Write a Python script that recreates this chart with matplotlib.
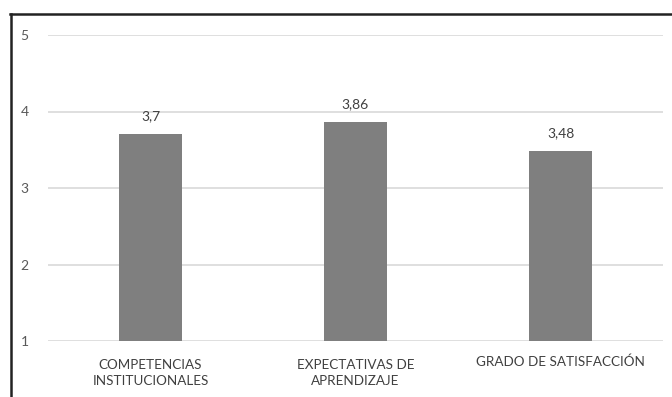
import matplotlib
matplotlib.use("Agg")
import matplotlib.pyplot as plt
from matplotlib.lines import Line2D
from matplotlib.transforms import blended_transform_factory

plt.rcParams['font.family'] = ['Lato', 'DejaVu Sans']

categories = ["COMPETENCIAS\nINSTITUCIONALES", "EXPECTATIVAS DE\nAPRENDIZAJE", "GRADO DE SATISFACCIÓN"]
values = [3.7, 3.86, 3.48]
value_labels = ["3,7", "3,86", "3,48"]
y_ticks = [1, 2, 3, 4, 5]

W, H = 672, 397
fig = plt.figure(figsize=(W / 100, H / 100), dpi=100)
fig.patch.set_facecolor("white")

ax = fig.add_axes([48 / W, 1 - 341 / H, (663 - 48) / W, (341 - 35) / H])
x = list(range(len(categories)))
bars = ax.bar(x, [v - 1 for v in values], bottom=1, width=0.31, color="#7f7f7f", zorder=3)

ax.set_xlim(-0.5, len(categories) - 0.5)
ax.set_ylim(1, 5)
ax.set_yticks(y_ticks)
ax.set_yticklabels([str(t) for t in y_ticks])
ax.grid(axis="y", color="#d9d9d9", linewidth=1.2, zorder=0)
for s in ax.spines.values():
    s.set_visible(False)
ax.tick_params(axis="both", length=0)
ax.tick_params(axis="y", pad=14, labelsize=10, labelcolor="#595959")
ax.set_xticks(x)
ax.set_xticklabels([])

# category labels, one text per line, placed below the plot area
trans = blended_transform_factory(ax.transData, fig.transFigure)
for xi, cat in zip(x, categories):
    lines = cat.split("\n")
    baselines = [366] if len(lines) == 1 else [369, 385]
    for line, by in zip(lines, baselines):
        ax.text(xi, 1 - by / H, line, transform=trans, ha="center", va="baseline",
                fontsize=9.7, color="#404040")

for b, v, lab in zip(bars, values, value_labels):
    ax.annotate(lab, (b.get_x() + b.get_width() / 2, v), xytext=(0, 9),
                textcoords="offset points", ha="center", va="bottom",
                fontsize=10, color="#404040")

# frame lines along the top and left edges
fig.add_artist(Line2D([10 / W, 1], [1 - 14 / H, 1 - 14 / H], color="#222222", linewidth=1.8,
                      transform=fig.transFigure))
fig.add_artist(Line2D([11 / W, 11 / W], [0, 1 - 14 / H], color="#222222", linewidth=1.8,
                      transform=fig.transFigure))

fig.savefig("out.png", dpi=100, facecolor="white")
